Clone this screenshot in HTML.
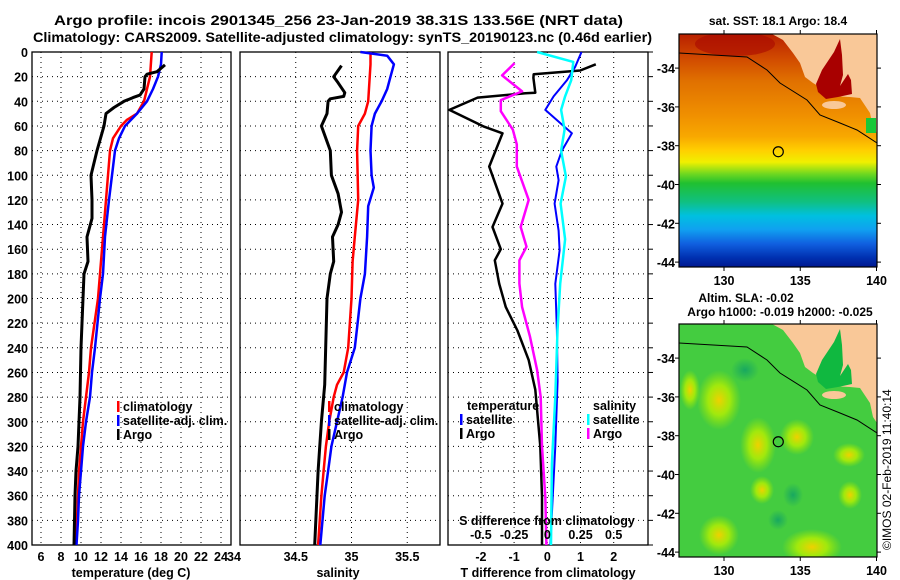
<!DOCTYPE html>
<html><head><meta charset="utf-8"><style>
html,body{margin:0;padding:0;background:#fff;}
svg{display:block;font-family:"Liberation Sans",sans-serif;font-weight:bold;}
</style></head><body>
<svg id="chart" width="900" height="580" viewBox="0 0 900 580" xmlns="http://www.w3.org/2000/svg">
<text x="54" y="25" font-size="13.5" textLength="569" lengthAdjust="spacingAndGlyphs">Argo profile: incois 2901345_256 23-Jan-2019 38.31S 133.56E (NRT data)</text>
<text x="33" y="42" font-size="13.5" textLength="619" lengthAdjust="spacingAndGlyphs">Climatology: CARS2009. Satellite-adjusted climatology: synTS_20190123.nc (0.46d earlier)</text>
<g id="panels"></g>
<g id="maps"></g>
<text transform="translate(891,550) rotate(-90)" font-size="12" font-weight="normal">©IMOS 02-Feb-2019 11:40:14</text>
</svg>
<script>
// ---------- data ----------
const depthTicks=[0,20,40,60,80,100,120,140,160,180,200,220,240,260,280,300,320,340,360,380,400];
const tempTicks=[6,8,10,12,14,16,18,20,22,24];
const salTicks=[34,34.5,35,35.5];
const tdiffTicks=[-2,-1,0,1,2];
const sdiffTicks=[-0.5,-0.25,0,0.25,0.5];
const sdiffLabels=["-0.5","-0.25","0","0.25","0.5"];

const climTz=[0,20,40,50,55,60,70,80,100,120,150,180,200,240,260,280,300,320,340,360,400];
const climT=[17.07,16.9,16.3,15.6,14.6,14.0,13.2,12.9,12.7,12.5,12.2,11.9,11.7,11.0,10.8,10.5,10.2,10.0,9.8,9.7,9.5];
const satTz=[0,10,20,30,40,50,60,70,80,100,120,150,180,200,240,260,280,300,320,340,360,380,400];
const satT=[18.07,18.0,17.7,17.2,16.6,15.6,14.4,13.8,13.4,13.1,12.8,12.4,12.2,11.9,11.4,11.1,10.9,10.5,10.2,10.0,9.8,9.7,9.55];
const argoTz=[10.5,16,18,20,30,35,37,40,45,50,60,80,100,120,135,150,170,180,200,240,260,280,300,320,340,360,400];
const argoT=[18.4,17.6,16.6,16.4,16.3,15.9,15.2,14.3,13.3,12.5,12.3,11.6,11.0,11.1,11.1,10.6,10.7,10.3,10.2,10.0,9.95,9.9,9.8,9.7,9.5,9.4,9.3];

const climSz=[0,10,40,50,60,80,120,150,170,200,240,260,270,280,300,320,340,360,400];
const climS=[35.17,35.17,35.15,35.12,35.06,35.05,35.06,35.03,35.01,35.0,34.97,34.93,34.87,34.84,34.80,34.77,34.75,34.73,34.70];
const satSz=[0,3,10,20,30,40,50,60,80,100,110,125,150,180,200,240,260,280,300,320,340,360,400];
const satS=[35.08,35.32,35.38,35.35,35.32,35.27,35.21,35.18,35.17,35.18,35.20,35.15,35.14,35.12,35.08,35.03,34.96,34.92,34.87,34.82,34.79,34.76,34.72];
const argoSz=[11,20,25,33,36,38,40,50,60,80,100,115,130,140,150,170,180,200,270,300,340,400];
const argoS=[34.91,34.84,34.88,34.94,34.93,34.81,34.79,34.78,34.73,34.81,34.82,34.88,34.91,34.88,34.83,34.84,34.81,34.78,34.76,34.73,34.70,34.67];

const dArgoTz=[10,15,18,21,33,33.5,37,47,60.6,66,93,123,142,160,169,188,207,226,250,274,320,361,400];
const dArgoT=[1.46,0.99,-0.41,-0.42,-0.36,-0.66,-2.1,-2.95,-1.9,-1.35,-1.75,-1.35,-1.65,-1.4,-1.58,-1.45,-1.25,-0.9,-0.56,-0.36,-0.21,-0.16,-0.16];
const dArgoSz=[9,19,32,39,48,63,75,93,120,142,158,169,188,207,231,258,280,320,361,400];
const dArgoS=[-0.246,-0.34,-0.19,-0.35,-0.35,-0.26,-0.23,-0.23,-0.14,-0.20,-0.157,-0.21,-0.21,-0.19,-0.13,-0.077,-0.05,-0.04,-0.015,-0.007];
const dSatTz=[0,12,23,36,47,66,80,93,104,123,145,161,188,226,267,320,400];
const dSatT=[1.03,0.84,0.59,0.19,-0.06,0.74,0.44,0.27,0.34,0.22,0.34,0.37,0.24,0.29,0.31,0.24,0.09];
const dSatSz=[0,8,23,36,47,63,80,101,123,152,188,226,280,334,400];
const dSatS=[-0.077,0.196,0.18,0.134,0.104,0.13,0.104,0.14,0.10,0.134,0.097,0.077,0.06,0.035,0.028];

const lonTicks=[130,135,140];
const latTicks=[-34,-36,-38,-40,-42,-44];
const floatLon=133.56, floatLat=-38.31;

// ---------- helpers ----------
const NS="http://www.w3.org/2000/svg";
const panels=document.getElementById('panels');
const mapsG=document.getElementById('maps');
function mk(tag,attrs,parent){const e=document.createElementNS(NS,tag);for(const k in attrs)e.setAttribute(k,attrs[k]);(parent||panels).appendChild(e);return e;}
const Y0=52,Y1=545;
const yD=z=>Y0+z*(Y1-Y0)/400;
const xT=t=>41+(t-6)*10;
const xS=s=>240+(s-34)*111.5;
const xDT=d=>547.3+d*33.2;
const xDS=d=>547.3+d*132.8;

function frame(x0,x1,name){
  const r=mk('rect',{x:x0,y:Y0,width:x1-x0,height:Y1-Y0,fill:'none',stroke:'#000','stroke-width':1.3});
  
  
  depthTicks.forEach(z=>{if(z>0&&z<400){const l=mk('line',{x1:x0,x2:x1,y1:yD(z),y2:yD(z),stroke:'#000','stroke-width':1,'stroke-dasharray':'1,4'});
    
    }});
}
function vgrid(x,name){const l=mk('line',{x1:x,x2:x,y1:Y0,y2:Y1,stroke:'#000','stroke-width':1,'stroke-dasharray':'1,4'});
  
  }
function txt(x,y,s,size,anchor,name){const t=mk('text',{x:x,y:y,'font-size':size,'text-anchor':anchor||'start'});t.textContent=s;
  
  return t;}
function series(zs,vs,xf,color,w,name){
  const d=zs.map((z,i)=>(i?'L':'M')+xf(vs[i]).toFixed(1)+','+yD(z).toFixed(1)).join(' ');
  const p=mk('path',{d:d,fill:'none',stroke:color,'stroke-width':w,'stroke-linejoin':'round'});
  
  
}
function legend(x,y,color,label,name){
  const r=mk('rect',{x:x,y:y-10,width:2.5,height:11,fill:color});
  
  
  txt(x+6,y,label,12.5,'start',name);
}

// ---------- panel 1: temperature ----------
frame(32,231,'temperature-panel-frame');
tempTicks.forEach(t=>{vgrid(xT(t),'temperature-gridline');txt(xT(t),561,String(t),12.5,'middle','temperature-tick-label');});
depthTicks.forEach(z=>txt(28,yD(z)+5,String(z),12.5,'end','depth-tick-label'));
series(climTz,climT,xT,'#ff0000',2.5,'climatology-temperature-line');
series(satTz,satT,xT,'#0000ff',2.5,'satellite-temperature-line');
series(argoTz,argoT,xT,'#000000',3,'argo-temperature-line');
txt(131,577,'temperature (deg C)',12.5,'middle','temperature-axis-title');
legend(117,411,'#ff0000','climatology','legend-climatology');
legend(117,425,'#0000ff','satellite-adj. clim.','legend-satellite-adj');
legend(117,439,'#000000','Argo','legend-argo');

// ---------- panel 2: salinity ----------
frame(240,440,'salinity-panel-frame');
salTicks.forEach(s=>{if(s>34)vgrid(xS(s),'salinity-gridline');txt(s==34?xS(s)-6:xS(s),561,String(s),12.5,'middle','salinity-tick-label');});
series(climSz,climS,xS,'#ff0000',2.5,'climatology-salinity-line');
series(satSz,satS,xS,'#0000ff',2.5,'satellite-salinity-line');
series(argoSz,argoS,xS,'#000000',3,'argo-salinity-line');
txt(338,577,'salinity',12.5,'middle','salinity-axis-title');
legend(328,411,'#ff0000','climatology','legend-climatology-2');
legend(328,425,'#0000ff','satellite-adj. clim.','legend-satellite-adj-2');
legend(328,439,'#000000','Argo','legend-argo-2');

// ---------- panel 3: differences ----------
frame(448,648,'difference-panel-frame');
tdiffTicks.forEach(d=>{vgrid(xDT(d),'tdiff-gridline');txt(xDT(d),561,String(d),12.5,'middle','tdiff-tick-label');});
depthTicks.forEach(z=>{const l=mk('line',{x1:648,x2:653,y1:yD(z),y2:yD(z),stroke:'#000','stroke-width':1});
  
  });
series(dArgoTz,dArgoT,xDT,'#000000',2.5,'argo-tdiff-line');
series(dArgoSz,dArgoS,xDS,'#ff00ff',2.5,'argo-sdiff-line');
series(dSatTz,dSatT,xDT,'#0000ff',2,'satellite-tdiff-line');
series(dSatSz,dSatS,xDS,'#00ffff',2.5,'satellite-sdiff-line');
txt(548,577,'T difference from climatology',12.5,'middle','tdiff-axis-title');
txt(547,525,'S difference from climatology',12.5,'middle','sdiff-axis-title');
sdiffTicks.forEach((d,i)=>txt(xDS(d),539,sdiffLabels[i],12.5,'middle','sdiff-tick-label'));
txt(467,410,'temperature',12.5,'start','legend-temperature-heading');
legend(460,424,'#0000ff','satellite','legend-t-satellite');
legend(460,438,'#000000','Argo','legend-t-argo');
txt(593,410,'salinity',12.5,'start','legend-salinity-heading');
legend(587,424,'#00ffff','satellite','legend-s-satellite');
legend(587,438,'#ff00ff','Argo','legend-s-argo');

// ---------- maps ----------
const MX0=679,MX1=877;
const mx=lon=>724+(lon-130)*15.25;
function drawMap(oy,kind){
  const my=lat=>oy+145.7+(lat+38)*(-19.4);
  const g=mk('g',{},mapsG);
  
  
  const cp=mk('clipPath',{id:'clip'+kind},g);
  mk('rect',{x:MX0,y:oy+34,width:MX1-MX0,height:233},cp);
  const inner=mk('g',{'clip-path':'url(#clip'+kind+')'},g);
  const defs=mk('defs',{},g);
  if(kind==='sst'){
    const lg=mk('linearGradient',{id:'sstg',x1:0,y1:0,x2:0,y2:1},defs);
    [[0,'#b82000'],[0.1,'#d04800'],[0.2,'#e07000'],[0.35,'#f09000'],[0.44,'#f8a800'],[0.5,'#ffd000'],[0.55,'#f0f000'],[0.6,'#70d820'],[0.64,'#20c030'],[0.72,'#10c080'],[0.78,'#00c0e0'],[0.84,'#10a0f0'],[0.9,'#1060e0'],[0.96,'#0030b0'],[1,'#001890']].forEach(s=>mk('stop',{offset:s[0],'stop-color':s[1]},lg));
    mk('rect',{x:MX0,y:oy+34,width:MX1-MX0,height:233,fill:'url(#sstg)'},inner);
    mk('ellipse',{cx:735,cy:oy+44,rx:40,ry:12,fill:'#a80800',opacity:0.6},inner);
  } else {
    mk('rect',{x:MX0,y:oy+34,width:MX1-MX0,height:233,fill:'#44cc40'},inner);
    const rg=mk('radialGradient',{id:'blob'},defs);
    mk('stop',{offset:0,'stop-color':'#f0d000'},rg);
    mk('stop',{offset:0.5,'stop-color':'#b8f000','stop-opacity':0.8},rg);
    mk('stop',{offset:1,'stop-color':'#a0e800','stop-opacity':0},rg);
    const rg2=mk('radialGradient',{id:'blob2'},defs);
    mk('stop',{offset:0,'stop-color':'#18a860'},rg2);
    mk('stop',{offset:1,'stop-color':'#18a860','stop-opacity':0},rg2);
    [[719,oy+110,22,30],[758,oy+155,18,28],[797,oy+147,17,18],[849,oy+165,16,12],[850,oy+205,12,14],[719,oy+245,20,20],[812,oy+257,30,18],[690,oy+100,10,20],[762,oy+200,12,14]].forEach(b=>mk('ellipse',{cx:b[0],cy:b[1],rx:b[2],ry:b[3],fill:'url(#blob)'},inner));
    [[745,oy+80,14,12],[793,oy+205,10,12],[778,oy+230,10,10]].forEach(b=>mk('ellipse',{cx:b[0],cy:b[1],rx:b[2],ry:b[3],fill:'url(#blob2)'},inner));
  }
  const land=[[772,34],[783,40],[793,53],[800,63],[805,77],[813,83],[818,86],[830,96],[850,97],[860,98],[870,113],[873,127],[877,133],[877,34]];
  const lp=mk('polygon',{points:land.map(p=>p[0]+','+(p[1]+oy)).join(' '),fill:'#f9c898'},inner);
  
  
  const gulf=[[816,84],[822,70],[834,52],[840,39],[842,55],[843,75],[840,86],[848,74],[851,80],[852,94],[838,97],[826,99],[818,92]];
  mk('polygon',{points:gulf.map(p=>p[0]+','+(p[1]+oy)).join(' '),fill:kind==='sst'?'#a80000':'#10b840'},inner);
  mk('ellipse',{cx:834,cy:oy+105,rx:12,ry:4,fill:'#f9c898'},inner);
  if(kind==='sst'){mk('rect',{x:866,y:oy+118,width:10,height:15,fill:'#18c838'},inner);}
  const shelf=[[679,53],[747,57],[767,70],[780,83],[807,100],[820,115],[840,123],[857,130],[877,143]];
  const sl=mk('polyline',{points:shelf.map(p=>p[0]+','+(p[1]+oy)).join(' '),fill:'none',stroke:'#000','stroke-width':1},inner);
  
  
  const c=mk('circle',{cx:mx(floatLon),cy:my(floatLat),r:5,fill:'none',stroke:'#000','stroke-width':1.2},g);
  
  
  mk('rect',{x:MX0,y:oy+34,width:MX1-MX0,height:233,fill:'none',stroke:'#000','stroke-width':1.2},g);
  lonTicks.forEach(l=>{mk('line',{x1:mx(l),x2:mx(l),y1:oy+34,y2:oy+30,stroke:'#000'},g);mk('line',{x1:mx(l),x2:mx(l),y1:oy+267,y2:oy+271,stroke:'#000'},g);
    const t=mk('text',{x:mx(l),y:oy+285,'font-size':12.5,'text-anchor':'middle'},g);t.textContent=String(l);
    
    });
  latTicks.forEach(l=>{mk('line',{x1:MX0,x2:MX0-4,y1:my(l),y2:my(l),stroke:'#000'},g);mk('line',{x1:MX1,x2:MX1+4,y1:my(l),y2:my(l),stroke:'#000'},g);
    const t=mk('text',{x:675,y:my(l)+5,'font-size':12.5,'text-anchor':'end'},g);t.textContent=String(l);
    
    });
}
drawMap(0,'sst');
drawMap(290,'sla');
txt(778,25,'sat. SST: 18.1 Argo: 18.4',12,'middle','sst-map-title');
txt(746,302,'Altim. SLA: -0.02',12,'middle','sla-map-title');
txt(780,316,'Argo h1000: -0.019 h2000: -0.025',12,'middle','sla-map-subtitle');
</script>
</body></html>
